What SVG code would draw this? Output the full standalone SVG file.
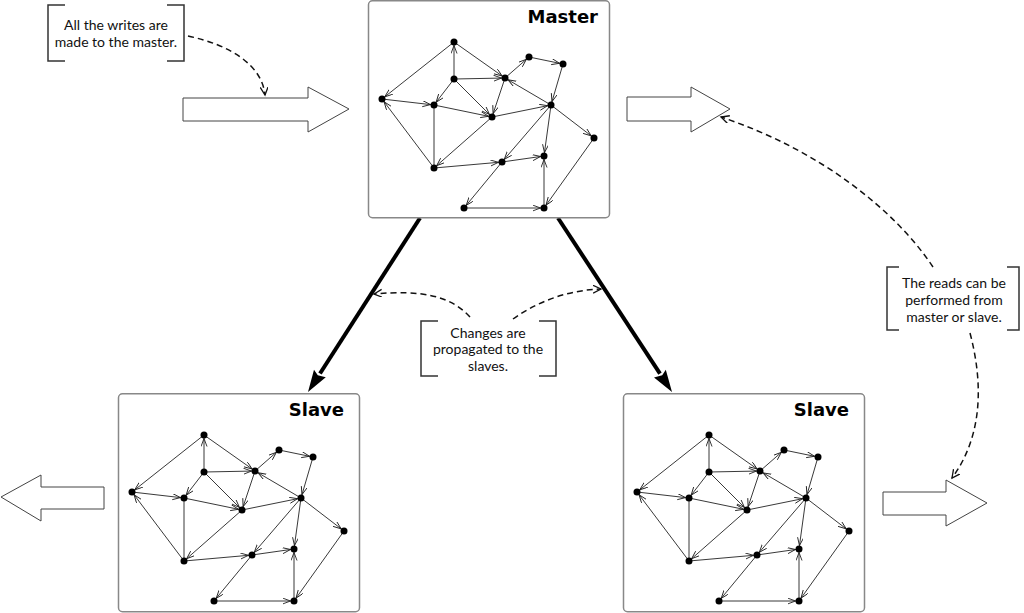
<svg xmlns="http://www.w3.org/2000/svg" xmlns:xlink="http://www.w3.org/1999/xlink" width="1024" height="613" viewBox="0 0 1024 613">
<style>
.box{fill:#fff;stroke:#888;stroke-width:1.5}
.title{font-family:"DejaVu Sans",sans-serif;font-weight:bold;font-size:18px;fill:#000;text-anchor:end}
.edge{stroke:#222;stroke-width:0.9;fill:none}
.dot{fill:#000}
.block{fill:#fff;stroke:#444;stroke-width:1}
.brk{fill:none;stroke:#333;stroke-width:1.5}
.note{font-family:Lato,"Liberation Sans",sans-serif;font-size:14px;fill:#111;text-anchor:middle}
.dash{fill:none;stroke:#111;stroke-width:1.5;stroke-dasharray:6 4}
.thick{stroke:#000;stroke-width:4;fill:none}
</style>
<defs>
<marker id="v" markerUnits="userSpaceOnUse" markerWidth="16" markerHeight="10" refX="11.5" refY="3" orient="auto">
<path d="M0,0 L8,3 L0,6" fill="none" stroke="#222" stroke-width="0.9"/>
</marker>
<marker id="dv" markerUnits="userSpaceOnUse" markerWidth="12" markerHeight="12" refX="8" refY="4" orient="auto">
<path d="M0,0 L8,4 L0,8" fill="none" stroke="#111" stroke-width="1.3"/>
</marker>
<g id="graph">
<g class="edge" marker-end="url(#v)">
<line x1="454" y1="42" x2="382" y2="99"/>
<line x1="454" y1="42" x2="505" y2="78"/>
<line x1="454" y1="79" x2="454" y2="42"/>
<line x1="454" y1="79" x2="505" y2="78"/>
<line x1="454" y1="79" x2="434" y2="105"/>
<line x1="454" y1="79" x2="492" y2="117"/>
<line x1="505" y1="78" x2="529" y2="57"/>
<line x1="529" y1="57" x2="563" y2="64"/>
<line x1="563" y1="64" x2="551" y2="105"/>
<line x1="505" y1="78" x2="492" y2="117"/>
<line x1="551" y1="105" x2="505" y2="78"/>
<line x1="382" y1="99" x2="434" y2="105"/>
<line x1="434" y1="105" x2="492" y2="117"/>
<line x1="492" y1="117" x2="551" y2="105"/>
<line x1="434" y1="168" x2="382" y2="99"/>
<line x1="492" y1="117" x2="434" y2="168"/>
<line x1="434" y1="168" x2="502" y2="162"/>
<line x1="502" y1="162" x2="544" y2="156"/>
<line x1="551" y1="105" x2="502" y2="162"/>
<line x1="551" y1="105" x2="544" y2="156"/>
<line x1="551" y1="105" x2="594" y2="138"/>
<line x1="594" y1="138" x2="544" y2="208"/>
<line x1="544" y1="208" x2="544" y2="156"/>
<line x1="502" y1="162" x2="464" y2="208"/>
<line x1="464" y1="208" x2="544" y2="208"/>
</g>
<line class="edge" x1="434" y1="105" x2="434" y2="168"/>
<g class="dot">
<circle cx="454" cy="42" r="3.5"/>
<circle cx="529" cy="57" r="3.5"/>
<circle cx="563" cy="64" r="3.5"/>
<circle cx="454" cy="79" r="3.5"/>
<circle cx="505" cy="78" r="3.5"/>
<circle cx="382" cy="99" r="3.5"/>
<circle cx="434" cy="105" r="3.5"/>
<circle cx="551" cy="105" r="3.5"/>
<circle cx="492" cy="117" r="3.5"/>
<circle cx="594" cy="138" r="3.5"/>
<circle cx="544" cy="156" r="3.5"/>
<circle cx="502" cy="162" r="3.5"/>
<circle cx="434" cy="168" r="3.5"/>
<circle cx="464" cy="208" r="3.5"/>
<circle cx="544" cy="208" r="3.5"/>
</g>
</g>
</defs>

<g id="connectors">
<path class="thick" d="M420,218 L320,373.5"/>
<path d="M308,392 L325.8,377.3 L317.8,375.2 L314,369.7 Z" fill="#000"/>
<path class="thick" d="M558,218 L660,373.6"/>
<path d="M672,392 L654,377.4 L662.2,375.3 L665.8,369.8 Z" fill="#000"/>
<path class="dash" d="M188,36 C230,45 262,65 265,95" marker-end="url(#dv)"/>
<path class="dash" d="M933,267 C895,210 820,150 721,117" marker-end="url(#dv)"/>
<path class="dash" d="M970,333 C985,390 980,440 952,478" marker-end="url(#dv)"/>
<path class="dash" d="M470,317 C450,295 420,290 374,294" marker-end="url(#dv)"/>
<path class="dash" d="M513,319 C540,300 570,290 601,289" marker-end="url(#dv)"/>
</g>

<g id="arrow-write">
<path class="block" d="M183,98 H308 V87 L349,109 L308,132 V121 H183 Z"/>
</g>
<g id="arrow-read-master">
<path class="block" d="M627,97 H691 V87 L730,109 L691,132 V121 H627 Z"/>
</g>
<g id="arrow-read-slave-right">
<path class="block" d="M883,492 H946 V480 L987,503 L946,526 V515 H883 Z"/>
</g>
<g id="arrow-read-slave-left">
<path class="block" d="M104,487 H41 V475 L1,497 L41,521 V509 H104 Z"/>
</g>

<g id="master">
<rect class="box" x="368.5" y="0.75" width="241" height="217" rx="4"/>
<text class="title" x="598" y="23">Master</text>
<use xlink:href="#graph"/>
</g>
<g id="slave-left">
<rect class="box" x="118.5" y="393.75" width="241" height="218" rx="4"/>
<text class="title" x="344" y="416">Slave</text>
<use xlink:href="#graph" transform="translate(-250,393)"/>
</g>
<g id="slave-right">
<rect class="box" x="623.5" y="393.75" width="241" height="218" rx="4"/>
<text class="title" x="849" y="416">Slave</text>
<use xlink:href="#graph" transform="translate(255,393)"/>
</g>

<g id="note-writes">
<path class="brk" d="M65,5 H48 V61 H65 M167,5 H184 V61 H167"/>
<text class="note" x="116" y="30">All the writes are</text>
<text class="note" x="116" y="47">made to the master.</text>
</g>
<g id="note-changes">
<path class="brk" d="M438,321 H421 V376 H438 M539,321 H556 V376 H539"/>
<text class="note" x="488" y="338">Changes are</text>
<text class="note" x="488" y="354">propagated to the</text>
<text class="note" x="488" y="371">slaves.</text>
</g>
<g id="note-reads">
<path class="brk" d="M899,267 H887 V330 H899 M1007,267 H1019 V330 H1007"/>
<text class="note" x="954" y="288">The reads can be</text>
<text class="note" x="954" y="305">performed from</text>
<text class="note" x="954" y="322">master or slave.</text>
</g>
</svg>
